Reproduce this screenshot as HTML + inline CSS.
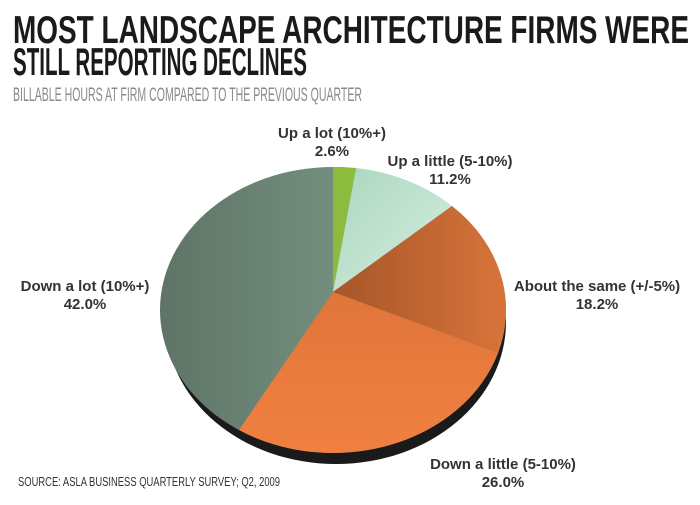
<!DOCTYPE html>
<html><head><style>body{margin:0;background:#fff}svg{display:block}</style></head>
<body>
<svg width="700" height="505" xmlns="http://www.w3.org/2000/svg">
<defs>
<linearGradient id="gDown" x1="160" y1="0" x2="333" y2="0" gradientUnits="userSpaceOnUse"><stop offset="0" stop-color="#5f7466"/><stop offset="1" stop-color="#728e7e"/></linearGradient>
<linearGradient id="gAbout" x1="0" y1="0" x2="1" y2="0"><stop offset="0" stop-color="#a65629"/><stop offset="1" stop-color="#d8743a"/></linearGradient>
<linearGradient id="gLittle" x1="0" y1="0" x2="0" y2="1"><stop offset="0" stop-color="#e0753a"/><stop offset="1" stop-color="#f08040"/></linearGradient>
<linearGradient id="gUpL" x1="0" y1="0" x2="1" y2="1"><stop offset="0" stop-color="#a9d6bd"/><stop offset="1" stop-color="#d8efe2"/></linearGradient>
</defs>
<g font-family="'Liberation Sans Narrow','Liberation Sans',sans-serif" font-weight="bold" fill="#1a1a1a">
<text x="13" y="43" font-size="39" textLength="676" lengthAdjust="spacingAndGlyphs">MOST LANDSCAPE ARCHITECTURE FIRMS WERE</text>
<text x="13" y="75" font-size="39" textLength="294" lengthAdjust="spacingAndGlyphs">STILL REPORTING DECLINES</text>
</g>
<text x="13" y="101" font-family="'Liberation Sans Narrow','Liberation Sans',sans-serif" font-size="19" fill="#8a8a8a" textLength="349" lengthAdjust="spacingAndGlyphs">BILLABLE HOURS AT FIRM COMPARED TO THE PREVIOUS QUARTER</text>
<ellipse cx="336" cy="322" rx="170" ry="142" fill="#1a1a1a"/>
<ellipse cx="333" cy="310" rx="173" ry="143" fill="url(#gDown)"/>
<path d="M333 292 L333 167 A173 143 0 0 1 356 168 Z" fill="#8cbb3e"/>
<path d="M333 292 L356 168 A173 143 0 0 1 452 206 Z" fill="url(#gUpL)"/>
<path d="M333 292 L452 206 A173 143 0 0 1 498 353 Z" fill="url(#gAbout)"/>
<path d="M333 292 L498 353 A173 143 0 0 1 239 430 Z" fill="url(#gLittle)"/>
<g font-family="'Liberation Sans',sans-serif" font-weight="bold" font-size="15" fill="#333" text-anchor="middle">
<text x="332" y="138">Up a lot (10%+)</text><text x="332" y="156">2.6%</text>
<text x="450" y="166">Up a little (5-10%)</text><text x="450" y="184">11.2%</text>
<text x="597" y="291">About the same (+/-5%)</text><text x="597" y="309">18.2%</text>
<text x="85" y="291">Down a lot (10%+)</text><text x="85" y="309">42.0%</text>
<text x="503" y="469">Down a little (5-10%)</text><text x="503" y="487">26.0%</text>
</g>
<text x="18" y="486" font-family="'Liberation Sans Narrow','Liberation Sans',sans-serif" font-size="13" fill="#333" textLength="262" lengthAdjust="spacingAndGlyphs">SOURCE: ASLA BUSINESS QUARTERLY SURVEY; Q2, 2009</text>
</svg>
</body></html>
